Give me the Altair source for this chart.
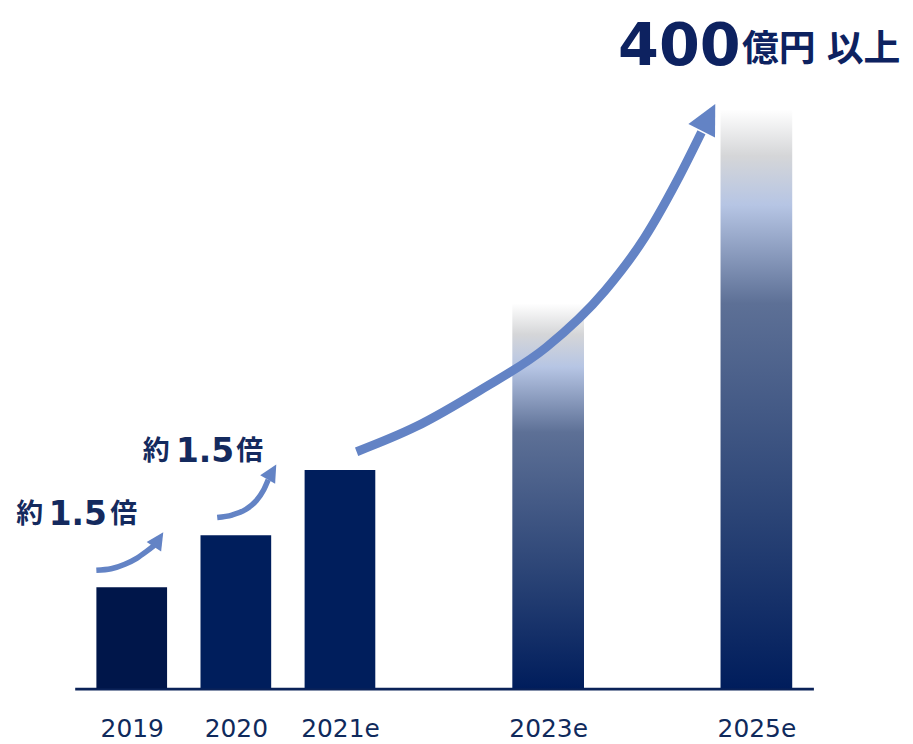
import altair as alt
import pandas as pd

# ---- bar data ----
years = [2019, 2020, 2021, 2023, 2025]
values = [70, 106, 151, 266, 400]
bar_colors = ["#00164a", "#001e5c", "#001e5c", None, None]
gradient_years = [2023, 2025]

# ---- axis ----
tick_years = [2019, 2020, 2021, 2023, 2025]
x_domain = [2018.5, 2025.5]
y_domain = [0, 460]

# ---- arrows (data units: year, 億円) ----
big_arrow_x = [2021.160, 2021.726, 2022.349, 2022.981, 2023.547, 2023.925, 2024.236, 2024.472]
big_arrow_y = [163.6, 180.8, 206.2, 235.7, 274.9, 311.3, 350.5, 384.2]
big_head = (2024.540, 394.5, 27)

arrow1_x = [2018.660, 2018.802, 2018.934, 2019.047, 2019.142, 2019.217]
arrow1_y = [81.8, 82.8, 85.9, 90.0, 94.8, 99.0]
head1 = (2019.258, 103.0, 33)

arrow2_x = [2019.821, 2019.962, 2020.094, 2020.198, 2020.264, 2020.311]
arrow2_y = [118.2, 119.9, 123.7, 129.9, 136.8, 144.3]
head2 = (2020.347, 149.6, 30)

# ---- annotation texts ----
ann_pieces = ["約", "1.5", "倍", "約", "1.5", "倍"]
ann_x = [2018.020, 2018.482, 2018.922, 2019.236, 2019.704, 2020.134]
ann_y = [119.6, 119.6, 119.6, 163.6, 163.6, 163.6]

title_pieces = ["400", "億円", "以上"]
title_x = [2024.260, 2025.215, 2026.030]
title_y = [443.3, 440.8, 440.8]

NAVY = "#0d2260"
ARROW = "#6383c5"

def X():
    return alt.X(
        "x:Q",
        scale=alt.Scale(domain=x_domain, nice=False, zero=False),
        axis=alt.Axis(values=tick_years, format="d",
                      labelExpr="datum.value >= 2021 ? datum.label + 'e' : datum.label",
                      title=None),
    )

def Y():
    return alt.Y("y:Q", scale=alt.Scale(domain=y_domain, nice=False), axis=None)

bars_df = pd.DataFrame({"x": years, "y": values, "c": bar_colors})
solid = alt.Chart(bars_df[bars_df["c"].notna()]).mark_bar(size=71).encode(
    x=X(), y=Y(), color=alt.Color("c:N", scale=None)
)

grad = alt.Gradient(
    gradient="linear",
    stops=[
        alt.GradientStop(color="#001d5c", offset=0),
        alt.GradientStop(color="#2b4476", offset=0.30),
        alt.GradientStop(color="#5d7096", offset=0.665),
        alt.GradientStop(color="#b6c5e4", offset=0.835),
        alt.GradientStop(color="#d5d6d8", offset=0.92),
        alt.GradientStop(color="#ffffff", offset=1),
    ],
    x1=0, x2=0, y1=1, y2=0,
)
grad_bars = alt.Chart(bars_df[bars_df["x"].isin(gradient_years)]).mark_bar(
    size=72, color=grad
).encode(x=X(), y=Y())


def arrow_layers(xs, ys, head, width, head_size):
    df = pd.DataFrame({"x": xs, "y": ys, "i": list(range(len(xs)))})
    line = alt.Chart(df).mark_line(
        color=ARROW, strokeWidth=width, strokeCap="butt", interpolate="monotone"
    ).encode(x=X(), y=Y(), order="i:Q")
    hdf = pd.DataFrame({"x": [head[0]], "y": [head[1]]})
    tip = alt.Chart(hdf).mark_point(
        shape="M0,-1L-1,1L1,1Z", filled=True, opacity=1, color=ARROW,
        size=head_size, angle=head[2], strokeWidth=0
    ).encode(x=X(), y=Y())
    return [line, tip]

arrows = (arrow_layers(big_arrow_x, big_arrow_y, big_head, 9, 900)
          + arrow_layers(arrow1_x, arrow1_y, head1, 5.5, 300)
          + arrow_layers(arrow2_x, arrow2_y, head2, 5.5, 300))

ann_df = pd.DataFrame({"x": ann_x, "y": ann_y, "t": ann_pieces})
ann_cjk = alt.Chart(ann_df[ann_df["t"] != "1.5"]).mark_text(
    font="Noto Sans CJK JP", fontWeight="bold", fontSize=27, color="#142a5e",
    align="center", baseline="middle"
).encode(x=X(), y=Y(), text="t:N")
ann_num = alt.Chart(ann_df[ann_df["t"] == "1.5"]).mark_text(
    font="DejaVu Sans", fontWeight="bold", fontSize=33, color="#142a5e",
    align="center", baseline="middle"
).encode(x=X(), y=Y(), text="t:N")

title_df = pd.DataFrame({"x": title_x, "y": title_y, "t": title_pieces})
title_num = alt.Chart(title_df[title_df["t"] == "400"]).mark_text(
    font="DejaVu Sans", fontWeight="bold", fontSize=59, color=NAVY,
    align="center", baseline="middle"
).encode(x=X(), y=Y(), text="t:N")
title_cjk = alt.Chart(title_df[title_df["t"] != "400"]).mark_text(
    font="Noto Sans CJK JP", fontWeight="bold", fontSize=37, color=NAVY,
    align="center", baseline="middle"
).encode(x=X(), y=Y(), text="t:N")

chart = alt.layer(
    solid, grad_bars, *arrows, ann_cjk, ann_num, title_num, title_cjk
).properties(
    width=742, height=669,
    padding={"left": 67, "top": 13, "right": 92, "bottom": 62},
    autosize=alt.AutoSizeParams(type="none"),
).configure_view(stroke=None).configure_axis(
    domainColor="#0b2258", domainWidth=3, ticks=False, grid=False,
    labelFont="DejaVu Sans", labelFontSize=25, labelColor="#0f2a5c",
    labelPadding=28,
)

chart.save("out.html", embed_options={"renderer": "svg", "actions": False})
